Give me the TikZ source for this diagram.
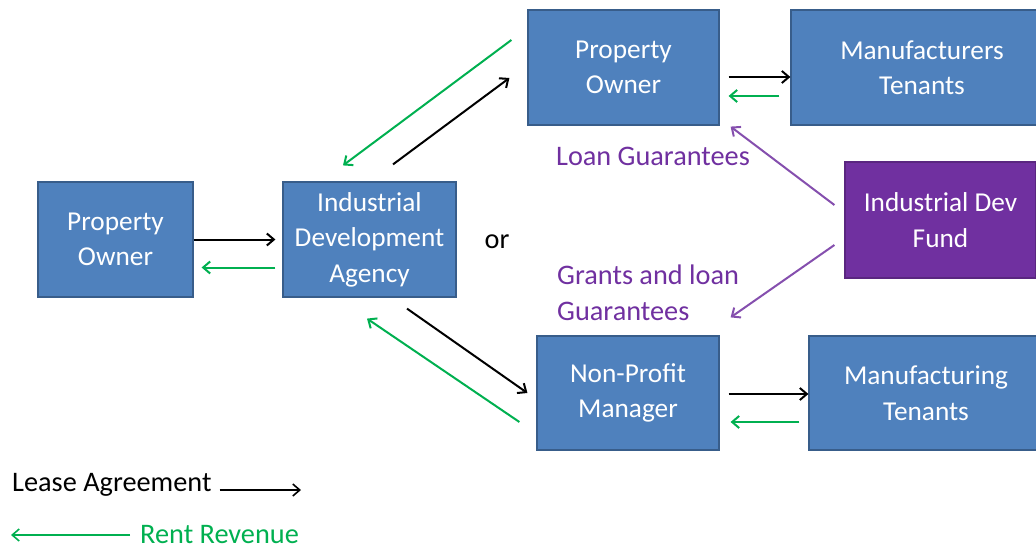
\documentclass[tikz,border=0pt]{standalone}
\usepackage{fontspec}
\setmainfont{Carlito}
\usetikzlibrary{arrows.meta,calc}
\definecolor{boxblue}{HTML}{4F81BD}
\definecolor{boxedge}{HTML}{385D8A}
\definecolor{fundpurple}{HTML}{7030A0}
\definecolor{rentgreen}{HTML}{00B050}
\begin{document}
\begin{tikzpicture}[x=1pt,y=-1pt,
  box/.style={draw=boxedge, fill=boxblue, line width=1.2pt, text=white, align=center,
    font=\fontsize{27.3}{35.5}\selectfont, inner sep=0pt},
  fundbox/.style={box, fill=fundpurple, draw=fundpurple!80!black},
  arr/.style={-{Straight Barb[length=7pt,width=12pt]}, line width=2pt},
  lease/.style={arr, black},
  rent/.style={arr, rentgreen},
  fund/.style={arr, fundpurple!85!white},
  lbl/.style={font=\fontsize{28.3}{36}\selectfont, inner sep=0pt, align=left}]
\clip (0,0) rectangle (1036,551);
% boxes
\node[box, minimum width=155pt, minimum height=115pt] (po) at (115.5,239.5) {Property\\Owner};
\node[box, minimum width=173pt, minimum height=115pt] (ida) at (369.5,239.5) {Industrial\\Development\\Agency};
\node[box, minimum width=191pt, minimum height=115pt] (pot) at (623.5,67.5) {Property\\Owner};
\node[box, minimum width=262pt, minimum height=115pt] (mt) at (922,67.5) {Manufacturers\\Tenants};
\node[fundbox, minimum width=191pt, minimum height=116pt] (fund) at (940.5,220) {Industrial Dev\\Fund};
\node[box, minimum width=182pt, minimum height=114pt] (npm) at (628,393) {Non-Profit\\Manager};
\node[box, minimum width=234pt, minimum height=114pt] (mfg) at (926,393) {Manufacturing\\Tenants};
% labels
\node[lbl] (or) at (497,242) {or};
\node[lbl, text=fundpurple] (loan) at (653,156) {Loan Guarantees};
\node[lbl, text=fundpurple, anchor=north west] (grants) at (557,265) {Grants and loan\\Guarantees};
% arrows
\draw[lease] (po.east) -- ($(ida.west)+(-7,0)$);
\draw[rent] ($(ida.west)+(-7,28)$) -- ($(po.east)+(8,28)$);
\draw[lease] ($(ida.north)+(23.5,-17)$) -- ($(pot.west)+(-18,10.5)$);
\draw[rent] ($(pot.west)+(-16,-27.5)$) -- ($(ida.north)+(-26.5,-16)$);
\draw[lease] ($(pot.east)+(9,9.5)$) -- ($(mt.west)+(0,9.5)$);
\draw[rent] ($(mt.west)+(-11,28.5)$) -- ($(pot.east)+(9,28.5)$);
\draw[lease] ($(ida.south)+(37.5,11)$) -- ($(npm.west)+(-9,0)$);
\draw[rent] ($(npm.west)+(-17,29)$) -- ($(ida.south)+(-2.5,21)$);
\draw[lease] ($(npm.east)+(9,1)$) -- ($(mfg.west)+(0,1)$);
\draw[rent] ($(mfg.west)+(-9,29)$) -- ($(npm.east)+(11,29)$);
\draw[fund] ($(fund.west)+(-10,-15)$) -- ($(pot.south east)+(11,1)$);
\draw[fund] ($(fund.west)+(-10,25)$) -- ($(npm.north east)+(11,-18)$);
% legend
\node[lbl, anchor=west] (lease) at (12,485) {Lease Agreement};
\coordinate (leaseend) at (301,490);
\draw[lease, line width=1.6pt] ($(lease.east)+(8,5)$) -- (leaseend);
\node[lbl, anchor=west, text=rentgreen] (rentlbl) at (140,535) {Rent Revenue};
\coordinate (rentend) at (11,535);
\draw[rent, line width=1.6pt] ($(rentlbl.west)+(-10,0)$) -- (rentend);
\end{tikzpicture}
\end{document}
